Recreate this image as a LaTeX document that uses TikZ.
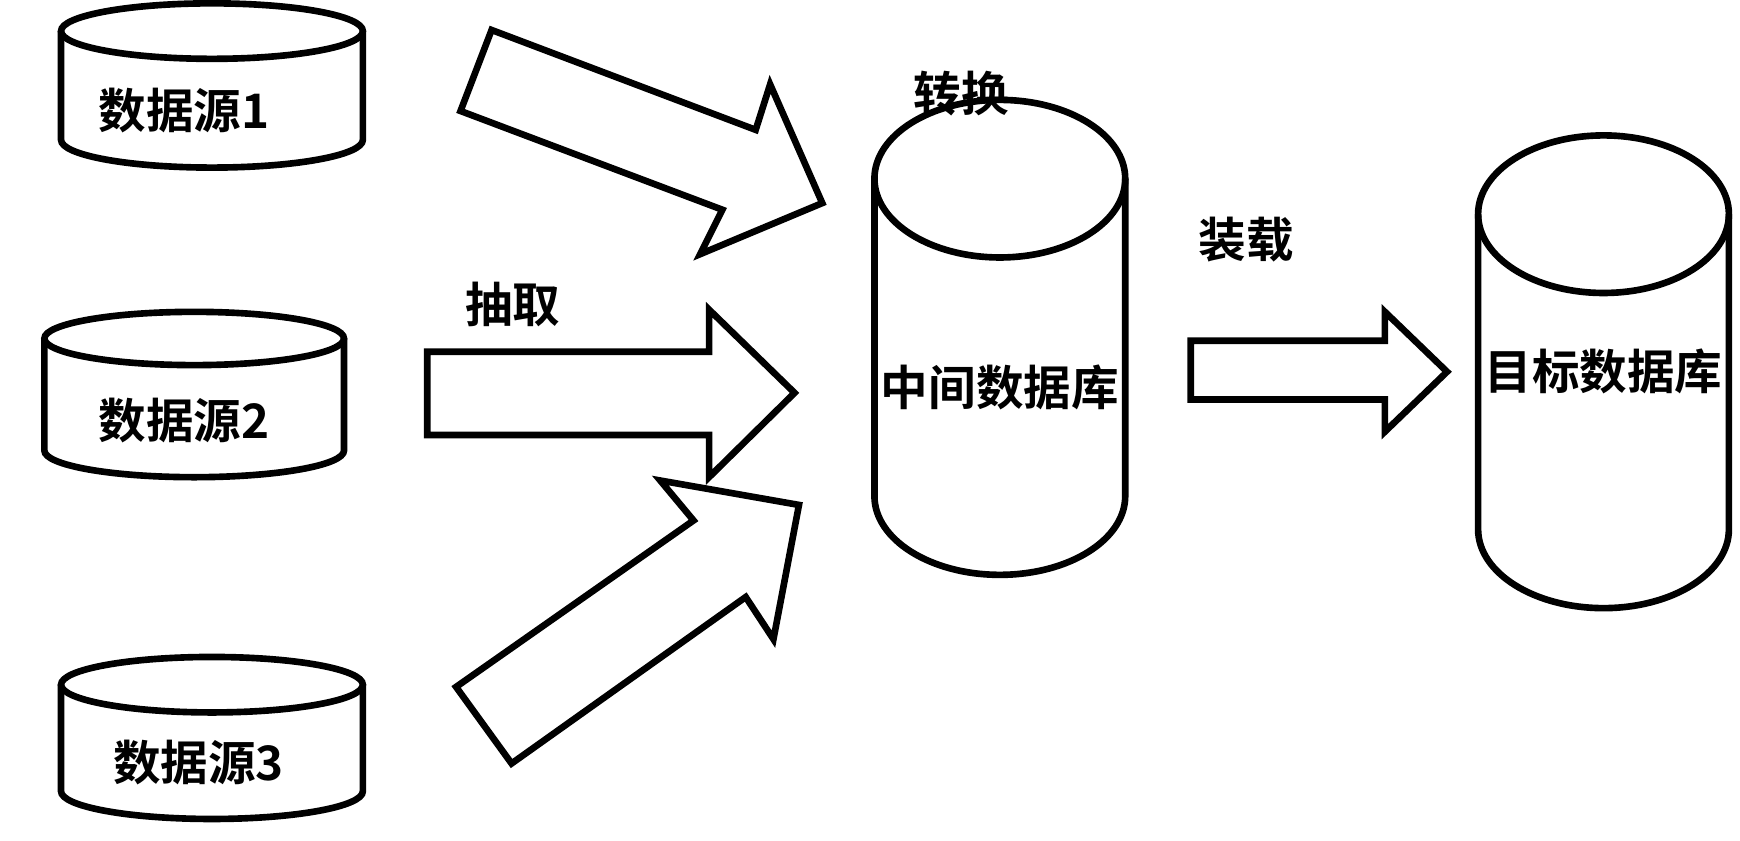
\documentclass[tikz,border=0pt]{standalone}
\usepackage{fontspec}
\setmainfont{Noto Sans CJK SC Bold}

% centre x, top y, bottom y, x radius, y radius
\newcommand{\dbcyl}[5]{
  \draw[dbline] (#1,#2+#5) ellipse [x radius=#4,y radius=#5];
  \draw[dbline] (#1-#4,#2+#5) -- (#1-#4,#3-#5) arc [start angle=180,delta angle=-180,x radius=#4,y radius=#5] -- (#1+#4,#2+#5);
}

\begin{document}
\begin{tikzpicture}[x=0.1mm,y=-0.1mm]
\tikzset{
  dbline/.style={line width=1.7pt},
  blockarrow/.style={draw,line width=1.7pt,line join=miter},
  dblabel/.style={font=\fontsize{12.2}{14}\selectfont,inner sep=0pt}
}
\useasboundingbox (0,0) rectangle (1568,757);
\dbcyl{191}{3}{151}{136}{25}
\dbcyl{175}{281}{430}{135}{24}
\dbcyl{191}{592}{738}{136}{25}
\dbcyl{901}{90}{518}{113}{71}
\dbcyl{1445}{122}{548}{113}{71}
\node[dblabel] (t_src_1) at (166,100) {数据源1};
\node[dblabel] (t_src_2) at (166,379) {数据源2};
\node[dblabel] (t_src_3) at (179,687) {数据源3};
\node[dblabel] (t_extract) at (462,274) {抽取};
\node[dblabel] (t_convert) at (866,84) {转换};
\node[dblabel] (t_load) at (1123,216) {装载};
\node[dblabel] (t_mid) at (901,349) {中间数据库};
\node[dblabel] (t_target) at (1445,335) {目标数据库};
\draw[blockarrow] (443,27) -- (681,117) -- (694,76) -- (741,183) -- (631,229) -- (651,189) -- (415,100) -- cycle;
\draw[blockarrow] (385,317) -- (639,317) -- (639,279) -- (716,354) -- (639,430) -- (639,392) -- (385,392) -- cycle;
\draw[blockarrow] (411,619) -- (625,469) -- (595,433) -- (720,455) -- (697,576) -- (672,538) -- (461,688) -- cycle;
\draw[blockarrow] (1073,307) -- (1248,307) -- (1248,281) -- (1304,335) -- (1248,389) -- (1248,360) -- (1073,360) -- cycle;
\end{tikzpicture}
\end{document}
